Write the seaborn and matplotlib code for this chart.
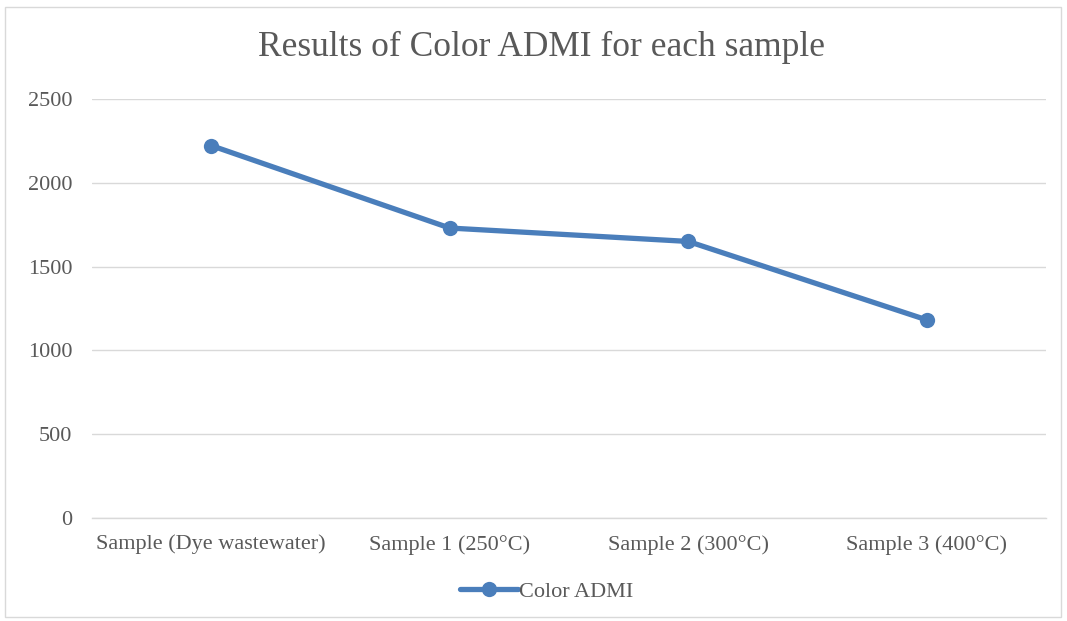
import pandas as pd
import seaborn as sns
import matplotlib.pyplot as plt
from matplotlib.patches import Rectangle

# values
samples = ['Sample (Dye wastewater)', 'Sample 1 (250°C)', 'Sample 2 (300°C)', 'Sample 3 (400°C)']
color_admi = [2222, 1730, 1650, 1182]
y_ticks = [0, 500, 1000, 1500, 2000, 2500]

df = pd.DataFrame({'Sample': samples, 'Color ADMI': color_admi})

sns.set_theme(style='white')
plt.rcParams['font.family'] = ['Liberation Serif', 'DejaVu Serif']

fig = plt.figure(figsize=(10.67, 6.21), dpi=100)
ax = fig.add_axes([0.0862, 0.1659, 0.8941, 0.6747])

sns.lineplot(data=df, x='Sample', y='Color ADMI', ax=ax, color='#4a7ebb',
             linewidth=3.8, marker='o', markersize=11, markeredgewidth=0,
             label='Color ADMI', sort=False)

ax.set_xlim(-0.5, 3.5)
ax.set_ylim(0, 2500)
ax.set_yticks(y_ticks)
ax.yaxis.grid(True, color='#d9d9d9', linewidth=1)
ax.set_axisbelow(True)
for s in ['top', 'right', 'left']:
    ax.spines[s].set_visible(False)
ax.spines['bottom'].set_color('#d9d9d9')
ax.spines['bottom'].set_linewidth(1)
ax.tick_params(axis='both', length=0, labelsize=16, colors='#595959')
ax.tick_params(axis='y', pad=14)
ax.tick_params(axis='x', pad=12)
ax.set_xlabel('')
ax.set_ylabel('')

# title is centred on the whole chart area, not on the plot
fig.text(542 / 1067, 1 - 47 / 621, 'Results of Color ADMI for each sample',
         fontsize=25.5, color='#595959', ha='center', va='center')

ax.legend(loc='center', bbox_to_anchor=(0.477, -0.175), frameon=False, fontsize=16,
          labelcolor='#595959', handlelength=2.6, handletextpad=0.05)

# light outer frame like the chart area border
fig.patches.append(Rectangle((5 / 1067, 4 / 621), 1056 / 1067, 610 / 621,
                             transform=fig.transFigure, fill=False,
                             edgecolor='#d9d9d9', linewidth=1))

fig.savefig('out.png', dpi=100)
